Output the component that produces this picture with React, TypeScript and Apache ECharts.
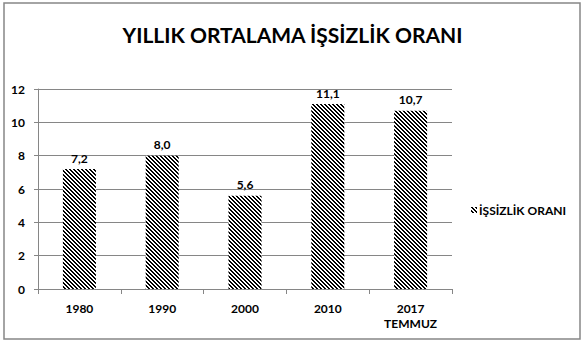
import React, { useEffect, useRef } from "react";
import * as echarts from "echarts";

const categories = ["1980", "1990", "2000", "2010", "2017\nTEMMUZ"];
const values = [7.2, 8.0, 5.6, 11.1, 10.7];
const seriesName = "İŞSİZLİK ORANI";
const titleText = "YILLIK ORTALAMA İŞSİZLİK ORANI";

function makeHatch(): HTMLCanvasElement {
  const c = document.createElement("canvas");
  const n = 4;
  c.width = n;
  c.height = n;
  const ctx = c.getContext("2d")!;
  ctx.fillStyle = "#ffffff";
  ctx.fillRect(0, 0, n, n);
  ctx.fillStyle = "#000000";
  for (let y = 0; y < n; y++) {
    for (let x = 0; x < n; x++) {
      const d = (((x - y) % n) + n) % n;
      if (d === 0 || d === 1) ctx.fillRect(x, y, 1, 1);
    }
  }
  return c;
}

const FONT = "Lato";

export default function App() {
  const ref = useRef<HTMLDivElement>(null);
  useEffect(() => {
    document.body.style.margin = "0";
    const chart = echarts.init(ref.current!, null, { renderer: "svg" });
    const hatch = makeHatch();
    const pattern: any = { image: hatch, repeat: "repeat", imageWidth: 4, imageHeight: 4 };
    chart.setOption({
      animation: false,
      backgroundColor: "#ffffff",
      textStyle: { fontFamily: FONT },
      title: {
        text: titleText,
        left: "center",
        top: 19,
        textStyle: { fontFamily: FONT, fontSize: 21, fontWeight: "bold", color: "#000" },
      },
      graphic: [
        {
          type: "rect",
          shape: { x: 4, y: 3, width: 576, height: 336 },
          style: { fill: "none", stroke: "#868686", lineWidth: 1.5 },
          silent: true,
          z: 100,
        },
      ],
      legend: {
        left: 466,
        top: 199,
        icon: "rect",
        itemWidth: 6,
        itemHeight: 6,
        itemGap: 4,
        textStyle: { fontFamily: FONT, fontSize: 12, fontWeight: "bold", color: "#000", padding: [0, 0, 0, -3] },
        data: [seriesName],
      },
      grid: { left: 38, top: 89, right: 133, bottom: 54 },
      xAxis: {
        type: "category",
        data: categories,
        axisLine: { show: true, lineStyle: { color: "#868686", width: 1 } },
        axisTick: { show: true, alignWithLabel: false, length: 5, lineStyle: { color: "#868686" } },
        axisLabel: {
          color: "#000",
          fontFamily: FONT,
          fontSize: 12,
          fontWeight: "bold",
          margin: 12,
          lineHeight: 15,
          interval: 0,
        },
      },
      yAxis: {
        type: "value",
        min: 0,
        max: 12,
        interval: 2,
        axisLine: { show: true, lineStyle: { color: "#868686", width: 1 } },
        axisTick: { show: true, length: 4, lineStyle: { color: "#868686" } },
        splitLine: { show: true, lineStyle: { color: "#868686", width: 1 } },
        axisLabel: {
          color: "#000",
          fontFamily: FONT,
          fontSize: 12,
          fontWeight: "bold",
          margin: 13,
        },
      },
      series: [
        {
          name: seriesName,
          type: "bar",
          data: values,
          barWidth: 33,
          itemStyle: { color: pattern },
          label: {
            show: true,
            position: "top",
            distance: 5,
            color: "#000",
            fontFamily: FONT,
            fontSize: 12,
            fontWeight: "bold",
            formatter: (p: any) => Number(p.value).toFixed(1).replace(".", ","),
          },
        },
      ],
    });
    return () => chart.dispose();
  }, []);
  return <div ref={ref} style={{ width: 585, height: 343 }} />;
}
